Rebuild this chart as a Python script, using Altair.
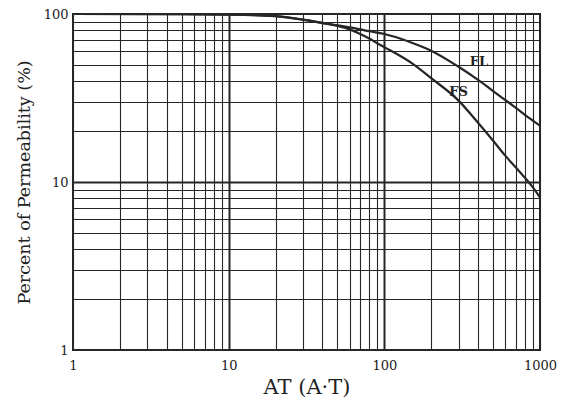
import altair as alt
import pandas as pd

# Curve data (AT in A·T, percent of permeability)
fl_at = [1, 5, 10, 20, 30, 40, 50, 60, 70, 80, 90, 100, 150, 200, 300, 400, 500, 600, 700, 800, 900, 1000]
fl_pct = [100, 99.8, 99.2, 97, 92.5, 88.5, 85.5, 83.3, 81, 79, 77.5, 76, 67.5, 60.5, 48.5, 40.5, 34.8, 30.7, 27.6, 25.1, 23.2, 21.6]

fs_at = [1, 5, 10, 20, 30, 40, 50, 60, 70, 80, 90, 100, 150, 200, 300, 400, 500, 600, 700, 800, 900, 1000]
fs_pct = [100, 99.8, 99.2, 97, 92.5, 88.3, 85, 81, 76, 71.5, 67, 63.5, 51, 41.5, 30.5, 22.5, 17.6, 14.3, 12.2, 10.6, 9.3, 8.1]

label_names = ["FL", "FS"]
label_at = [405, 300]
label_pct = [52, 34.4]

x_grid = [m * d for d in [1, 10, 100] for m in range(1, 10)] + [1000]
y_grid = [m * d for d in [1, 10] for m in range(1, 10)] + [100]

rows = []
for a, p in zip(fl_at, fl_pct):
    rows.append({"series": "FL", "at": a, "pct": p})
for a, p in zip(fs_at, fs_pct):
    rows.append({"series": "FS", "at": a, "pct": p})
df = pd.DataFrame(rows)
labels = pd.DataFrame({"name": label_names, "at": label_at, "pct": label_pct})

FONT = "DejaVu Serif"
INK = "#262626"

xscale = alt.Scale(type="log", domain=[1, 1000], nice=False)
yscale = alt.Scale(type="log", domain=[1, 100], nice=False)

xaxis = alt.Axis(
    title="AT (A·T)",
    values=x_grid,
    labelExpr="(datum.value==1||datum.value==10||datum.value==100||datum.value==1000) ? format(datum.value,'d') : ''",
    grid=True,
    gridColor=INK,
    gridOpacity=1,
    gridWidth={"condition": {"test": "datum.value==10||datum.value==100", "value": 2}, "value": 1.1},
    ticks=False,
    domain=False,
    labelFont=FONT,
    labelFontSize=13,
    labelColor="#222",
    labelPadding=9,
    labelFlush=False,
    titleFont=FONT,
    titleFontSize=21,
    titleFontWeight="normal",
    titleColor="#222",
    titlePadding=4,
)
yaxis = alt.Axis(
    title="Percent of Permeability (%)",
    values=y_grid,
    labelExpr="(datum.value==1||datum.value==10||datum.value==100) ? format(datum.value,'d') : ''",
    grid=True,
    gridColor=INK,
    gridOpacity=1,
    gridWidth={"condition": {"test": "datum.value==10", "value": 2}, "value": 1.1},
    ticks=False,
    domain=False,
    labelFont=FONT,
    labelFontSize=13,
    labelColor="#222",
    labelPadding=5,
    labelFlush=False,
    titleFont=FONT,
    titleFontSize=17.5,
    titleFontWeight="normal",
    titleColor="#222",
    titlePadding=10,
)

lines = alt.Chart(df).mark_line(color=INK, strokeWidth=2.2, interpolate="monotone").encode(
    x=alt.X("at:Q", scale=xscale, axis=xaxis),
    y=alt.Y("pct:Q", scale=yscale, axis=yaxis),
    detail="series:N",
)

text = alt.Chart(labels).mark_text(font=FONT, fontSize=13, fontWeight="bold", color="#222").encode(
    x=alt.X("at:Q", scale=xscale),
    y=alt.Y("pct:Q", scale=yscale),
    text="name:N",
)

chart = (
    alt.layer(lines, text)
    .properties(
        width=467,
        height=336,
        autosize=alt.AutoSizeParams(type="none"),
        padding={"left": 65, "top": 6, "right": 20, "bottom": 50},
        background="white",
    )
    .configure_view(stroke=INK, strokeWidth=2)
)

chart.save("out.html", embed_options={"renderer": "svg", "actions": False})
